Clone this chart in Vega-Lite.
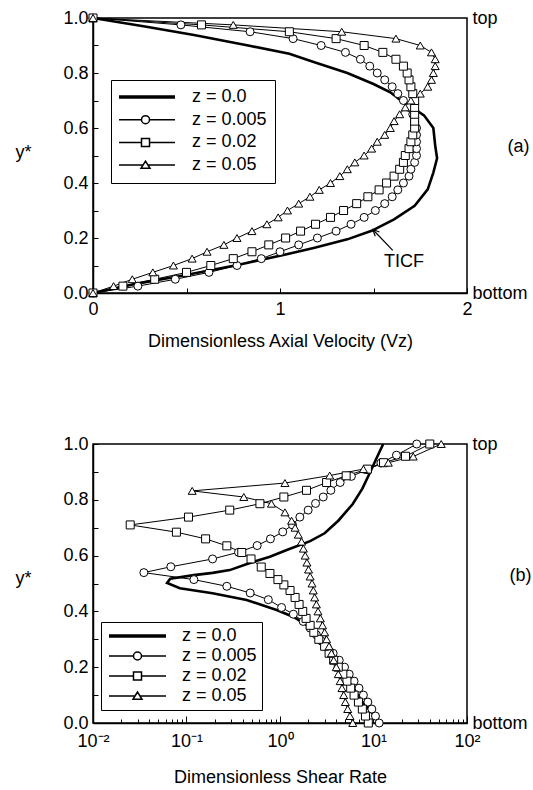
{
  "$schema": "https://vega.github.io/schema/vega-lite/v6.json",
  "padding": {"left": 14, "top": 8, "right": 0, "bottom": 0},
  "spacing": 83,
  "resolve": {"scale": {"shape": "independent"}, "legend": {"shape": "independent"}},
  "config": {
    "font": "Liberation Sans",
    "view": {"stroke": "black", "strokeWidth": 1.5},
    "axis": {"domainColor": "black", "domainWidth": 1.5, "tickColor": "black", "tickWidth": 1, "labelColor": "black", "titleColor": "black", "labelFontSize": 18, "titleFontSize": 18, "titleFontWeight": "normal", "grid": false, "labelFont": "Liberation Sans", "titleFont": "Liberation Sans"}
  },
  "datasets": {
    "vel": [
      {"z": "z = 0.0", "vz": 0, "y": 0}, {"z": "z = 0.0", "vz": 0.25, "y": 0.036}, {"z": "z = 0.0", "vz": 0.51, "y": 0.067}, {"z": "z = 0.0", "vz": 0.78, "y": 0.103}, {"z": "z = 0.0", "vz": 1.03, "y": 0.14}, {"z": "z = 0.0", "vz": 1.18, "y": 0.164}, {"z": "z = 0.0", "vz": 1.36, "y": 0.195}, {"z": "z = 0.0", "vz": 1.49, "y": 0.226}, {"z": "z = 0.0", "vz": 1.61, "y": 0.268}, {"z": "z = 0.0", "vz": 1.72, "y": 0.317}, {"z": "z = 0.0", "vz": 1.79, "y": 0.377}, {"z": "z = 0.0", "vz": 1.82, "y": 0.438}, {"z": "z = 0.0", "vz": 1.84, "y": 0.49}, {"z": "z = 0.0", "vz": 1.83, "y": 0.536}, {"z": "z = 0.0", "vz": 1.82, "y": 0.6}, {"z": "z = 0.0", "vz": 1.77, "y": 0.646}, {"z": "z = 0.0", "vz": 1.72, "y": 0.669}, {"z": "z = 0.0", "vz": 1.66, "y": 0.693}, {"z": "z = 0.0", "vz": 1.59, "y": 0.73}, {"z": "z = 0.0", "vz": 1.5, "y": 0.76}, {"z": "z = 0.0", "vz": 1.36, "y": 0.8}, {"z": "z = 0.0", "vz": 1.18, "y": 0.84}, {"z": "z = 0.0", "vz": 1.05, "y": 0.87}, {"z": "z = 0.0", "vz": 0.83, "y": 0.9}, {"z": "z = 0.0", "vz": 0.54, "y": 0.938}, {"z": "z = 0.0", "vz": 0.27, "y": 0.97}, {"z": "z = 0.0", "vz": 0, "y": 1},

      {"z": "z = 0.005", "vz": 0, "y": 0}, {"z": "z = 0.005", "vz": 0.24, "y": 0.025}, {"z": "z = 0.005", "vz": 0.44, "y": 0.05}, {"z": "z = 0.005", "vz": 0.62, "y": 0.075}, {"z": "z = 0.005", "vz": 0.77, "y": 0.1}, {"z": "z = 0.005", "vz": 0.9, "y": 0.125}, {"z": "z = 0.005", "vz": 1.0, "y": 0.15}, {"z": "z = 0.005", "vz": 1.1, "y": 0.175}, {"z": "z = 0.005", "vz": 1.2, "y": 0.2}, {"z": "z = 0.005", "vz": 1.3, "y": 0.225}, {"z": "z = 0.005", "vz": 1.38, "y": 0.25}, {"z": "z = 0.005", "vz": 1.45, "y": 0.275}, {"z": "z = 0.005", "vz": 1.51, "y": 0.3}, {"z": "z = 0.005", "vz": 1.56, "y": 0.325}, {"z": "z = 0.005", "vz": 1.6, "y": 0.35}, {"z": "z = 0.005", "vz": 1.63, "y": 0.375}, {"z": "z = 0.005", "vz": 1.66, "y": 0.4}, {"z": "z = 0.005", "vz": 1.69, "y": 0.425}, {"z": "z = 0.005", "vz": 1.7, "y": 0.45}, {"z": "z = 0.005", "vz": 1.72, "y": 0.475}, {"z": "z = 0.005", "vz": 1.73, "y": 0.5}, {"z": "z = 0.005", "vz": 1.73, "y": 0.525}, {"z": "z = 0.005", "vz": 1.73, "y": 0.55}, {"z": "z = 0.005", "vz": 1.73, "y": 0.575}, {"z": "z = 0.005", "vz": 1.73, "y": 0.6}, {"z": "z = 0.005", "vz": 1.72, "y": 0.625}, {"z": "z = 0.005", "vz": 1.71, "y": 0.65}, {"z": "z = 0.005", "vz": 1.69, "y": 0.675}, {"z": "z = 0.005", "vz": 1.66, "y": 0.7}, {"z": "z = 0.005", "vz": 1.63, "y": 0.725}, {"z": "z = 0.005", "vz": 1.6, "y": 0.75}, {"z": "z = 0.005", "vz": 1.56, "y": 0.775}, {"z": "z = 0.005", "vz": 1.52, "y": 0.8}, {"z": "z = 0.005", "vz": 1.48, "y": 0.825}, {"z": "z = 0.005", "vz": 1.43, "y": 0.85}, {"z": "z = 0.005", "vz": 1.35, "y": 0.875}, {"z": "z = 0.005", "vz": 1.22, "y": 0.9}, {"z": "z = 0.005", "vz": 1.07, "y": 0.925}, {"z": "z = 0.005", "vz": 0.84, "y": 0.95}, {"z": "z = 0.005", "vz": 0.47, "y": 0.975}, {"z": "z = 0.005", "vz": 0, "y": 1},

      {"z": "z = 0.02", "vz": 0, "y": 0}, {"z": "z = 0.02", "vz": 0.16, "y": 0.025}, {"z": "z = 0.02", "vz": 0.33, "y": 0.05}, {"z": "z = 0.02", "vz": 0.5, "y": 0.075}, {"z": "z = 0.02", "vz": 0.63, "y": 0.1}, {"z": "z = 0.02", "vz": 0.75, "y": 0.125}, {"z": "z = 0.02", "vz": 0.85, "y": 0.15}, {"z": "z = 0.02", "vz": 0.94, "y": 0.175}, {"z": "z = 0.02", "vz": 1.03, "y": 0.2}, {"z": "z = 0.02", "vz": 1.11, "y": 0.225}, {"z": "z = 0.02", "vz": 1.19, "y": 0.25}, {"z": "z = 0.02", "vz": 1.27, "y": 0.275}, {"z": "z = 0.02", "vz": 1.34, "y": 0.3}, {"z": "z = 0.02", "vz": 1.41, "y": 0.325}, {"z": "z = 0.02", "vz": 1.47, "y": 0.35}, {"z": "z = 0.02", "vz": 1.53, "y": 0.375}, {"z": "z = 0.02", "vz": 1.57, "y": 0.4}, {"z": "z = 0.02", "vz": 1.61, "y": 0.425}, {"z": "z = 0.02", "vz": 1.64, "y": 0.45}, {"z": "z = 0.02", "vz": 1.66, "y": 0.475}, {"z": "z = 0.02", "vz": 1.67, "y": 0.5}, {"z": "z = 0.02", "vz": 1.69, "y": 0.525}, {"z": "z = 0.02", "vz": 1.7, "y": 0.55}, {"z": "z = 0.02", "vz": 1.71, "y": 0.575}, {"z": "z = 0.02", "vz": 1.72, "y": 0.6}, {"z": "z = 0.02", "vz": 1.72, "y": 0.625}, {"z": "z = 0.02", "vz": 1.72, "y": 0.65}, {"z": "z = 0.02", "vz": 1.72, "y": 0.675}, {"z": "z = 0.02", "vz": 1.72, "y": 0.7}, {"z": "z = 0.02", "vz": 1.71, "y": 0.725}, {"z": "z = 0.02", "vz": 1.7, "y": 0.75}, {"z": "z = 0.02", "vz": 1.69, "y": 0.775}, {"z": "z = 0.02", "vz": 1.68, "y": 0.8}, {"z": "z = 0.02", "vz": 1.66, "y": 0.825}, {"z": "z = 0.02", "vz": 1.62, "y": 0.85}, {"z": "z = 0.02", "vz": 1.55, "y": 0.875}, {"z": "z = 0.02", "vz": 1.45, "y": 0.9}, {"z": "z = 0.02", "vz": 1.3, "y": 0.925}, {"z": "z = 0.02", "vz": 1.05, "y": 0.95}, {"z": "z = 0.02", "vz": 0.58, "y": 0.975}, {"z": "z = 0.02", "vz": 0, "y": 1},

      {"z": "z = 0.05", "vz": 0, "y": 0}, {"z": "z = 0.05", "vz": 0.11, "y": 0.025}, {"z": "z = 0.05", "vz": 0.21, "y": 0.05}, {"z": "z = 0.05", "vz": 0.32, "y": 0.075}, {"z": "z = 0.05", "vz": 0.43, "y": 0.1}, {"z": "z = 0.05", "vz": 0.53, "y": 0.125}, {"z": "z = 0.05", "vz": 0.61, "y": 0.15}, {"z": "z = 0.05", "vz": 0.7, "y": 0.175}, {"z": "z = 0.05", "vz": 0.77, "y": 0.2}, {"z": "z = 0.05", "vz": 0.85, "y": 0.225}, {"z": "z = 0.05", "vz": 0.93, "y": 0.25}, {"z": "z = 0.05", "vz": 0.99, "y": 0.275}, {"z": "z = 0.05", "vz": 1.04, "y": 0.3}, {"z": "z = 0.05", "vz": 1.1, "y": 0.325}, {"z": "z = 0.05", "vz": 1.16, "y": 0.35}, {"z": "z = 0.05", "vz": 1.21, "y": 0.375}, {"z": "z = 0.05", "vz": 1.27, "y": 0.4}, {"z": "z = 0.05", "vz": 1.32, "y": 0.425}, {"z": "z = 0.05", "vz": 1.36, "y": 0.45}, {"z": "z = 0.05", "vz": 1.4, "y": 0.475}, {"z": "z = 0.05", "vz": 1.45, "y": 0.5}, {"z": "z = 0.05", "vz": 1.49, "y": 0.525}, {"z": "z = 0.05", "vz": 1.52, "y": 0.55}, {"z": "z = 0.05", "vz": 1.56, "y": 0.575}, {"z": "z = 0.05", "vz": 1.59, "y": 0.6}, {"z": "z = 0.05", "vz": 1.61, "y": 0.625}, {"z": "z = 0.05", "vz": 1.64, "y": 0.65}, {"z": "z = 0.05", "vz": 1.67, "y": 0.675}, {"z": "z = 0.05", "vz": 1.7, "y": 0.7}, {"z": "z = 0.05", "vz": 1.75, "y": 0.725}, {"z": "z = 0.05", "vz": 1.79, "y": 0.75}, {"z": "z = 0.05", "vz": 1.81, "y": 0.775}, {"z": "z = 0.05", "vz": 1.82, "y": 0.8}, {"z": "z = 0.05", "vz": 1.83, "y": 0.825}, {"z": "z = 0.05", "vz": 1.83, "y": 0.85}, {"z": "z = 0.05", "vz": 1.81, "y": 0.875}, {"z": "z = 0.05", "vz": 1.75, "y": 0.9}, {"z": "z = 0.05", "vz": 1.62, "y": 0.925}, {"z": "z = 0.05", "vz": 1.33, "y": 0.95}, {"z": "z = 0.05", "vz": 0.75, "y": 0.975}, {"z": "z = 0.05", "vz": 0, "y": 1}
    ],
    "shear": [
      {"z": "z = 0.0", "rate": 12.0, "y": 0}, {"z": "z = 0.0", "rate": 9.7, "y": 0.035}, {"z": "z = 0.0", "rate": 7.8, "y": 0.071}, {"z": "z = 0.0", "rate": 6.6, "y": 0.106}, {"z": "z = 0.0", "rate": 5.6, "y": 0.142}, {"z": "z = 0.0", "rate": 4.0, "y": 0.214}, {"z": "z = 0.0", "rate": 2.9, "y": 0.286}, {"z": "z = 0.0", "rate": 1.93, "y": 0.351}, {"z": "z = 0.0", "rate": 1.4, "y": 0.38}, {"z": "z = 0.0", "rate": 0.92, "y": 0.405}, {"z": "z = 0.0", "rate": 0.44, "y": 0.441}, {"z": "z = 0.0", "rate": 0.19, "y": 0.465}, {"z": "z = 0.0", "rate": 0.085, "y": 0.483}, {"z": "z = 0.0", "rate": 0.062, "y": 0.502}, {"z": "z = 0.0", "rate": 0.067, "y": 0.517}, {"z": "z = 0.0", "rate": 0.12, "y": 0.53}, {"z": "z = 0.0", "rate": 0.19, "y": 0.538}, {"z": "z = 0.0", "rate": 0.29, "y": 0.548}, {"z": "z = 0.0", "rate": 0.46, "y": 0.572}, {"z": "z = 0.0", "rate": 0.78, "y": 0.596}, {"z": "z = 0.0", "rate": 1.18, "y": 0.62}, {"z": "z = 0.0", "rate": 2.1, "y": 0.652}, {"z": "z = 0.0", "rate": 3.0, "y": 0.68}, {"z": "z = 0.0", "rate": 4.2, "y": 0.725}, {"z": "z = 0.0", "rate": 6.0, "y": 0.785}, {"z": "z = 0.0", "rate": 7.6, "y": 0.84}, {"z": "z = 0.0", "rate": 9.1, "y": 0.895}, {"z": "z = 0.0", "rate": 10.8, "y": 0.95}, {"z": "z = 0.0", "rate": 12.7, "y": 1.0},

      {"z": "z = 0.005", "rate": 11.5, "y": 0}, {"z": "z = 0.005", "rate": 10.5, "y": 0.025}, {"z": "z = 0.005", "rate": 9.6, "y": 0.05}, {"z": "z = 0.005", "rate": 8.7, "y": 0.075}, {"z": "z = 0.005", "rate": 7.8, "y": 0.1}, {"z": "z = 0.005", "rate": 7.0, "y": 0.125}, {"z": "z = 0.005", "rate": 6.2, "y": 0.15}, {"z": "z = 0.005", "rate": 5.5, "y": 0.175}, {"z": "z = 0.005", "rate": 4.9, "y": 0.2}, {"z": "z = 0.005", "rate": 4.3, "y": 0.225}, {"z": "z = 0.005", "rate": 3.7, "y": 0.25}, {"z": "z = 0.005", "rate": 3.2, "y": 0.272}, {"z": "z = 0.005", "rate": 2.8, "y": 0.293}, {"z": "z = 0.005", "rate": 2.45, "y": 0.316}, {"z": "z = 0.005", "rate": 2.1, "y": 0.34}, {"z": "z = 0.005", "rate": 1.77, "y": 0.364}, {"z": "z = 0.005", "rate": 1.39, "y": 0.39}, {"z": "z = 0.005", "rate": 1.04, "y": 0.414}, {"z": "z = 0.005", "rate": 0.75, "y": 0.442}, {"z": "z = 0.005", "rate": 0.48, "y": 0.466}, {"z": "z = 0.005", "rate": 0.27, "y": 0.49}, {"z": "z = 0.005", "rate": 0.12, "y": 0.514}, {"z": "z = 0.005", "rate": 0.035, "y": 0.539}, {"z": "z = 0.005", "rate": 0.068, "y": 0.56}, {"z": "z = 0.005", "rate": 0.19, "y": 0.588}, {"z": "z = 0.005", "rate": 0.36, "y": 0.612}, {"z": "z = 0.005", "rate": 0.57, "y": 0.636}, {"z": "z = 0.005", "rate": 0.79, "y": 0.66}, {"z": "z = 0.005", "rate": 1.07, "y": 0.685}, {"z": "z = 0.005", "rate": 1.36, "y": 0.71}, {"z": "z = 0.005", "rate": 1.63, "y": 0.738}, {"z": "z = 0.005", "rate": 2.0, "y": 0.763}, {"z": "z = 0.005", "rate": 2.4, "y": 0.787}, {"z": "z = 0.005", "rate": 2.9, "y": 0.81}, {"z": "z = 0.005", "rate": 3.5, "y": 0.834}, {"z": "z = 0.005", "rate": 4.4, "y": 0.862}, {"z": "z = 0.005", "rate": 5.8, "y": 0.884}, {"z": "z = 0.005", "rate": 8.5, "y": 0.908}, {"z": "z = 0.005", "rate": 12.0, "y": 0.932}, {"z": "z = 0.005", "rate": 17.6, "y": 0.96}, {"z": "z = 0.005", "rate": 29, "y": 1.0},

      {"z": "z = 0.02", "rate": 8.8, "y": 0}, {"z": "z = 0.02", "rate": 8.2, "y": 0.025}, {"z": "z = 0.02", "rate": 7.6, "y": 0.05}, {"z": "z = 0.02", "rate": 6.9, "y": 0.075}, {"z": "z = 0.02", "rate": 6.2, "y": 0.1}, {"z": "z = 0.02", "rate": 5.7, "y": 0.125}, {"z": "z = 0.02", "rate": 5.2, "y": 0.15}, {"z": "z = 0.02", "rate": 4.7, "y": 0.175}, {"z": "z = 0.02", "rate": 4.2, "y": 0.2}, {"z": "z = 0.02", "rate": 3.75, "y": 0.225}, {"z": "z = 0.02", "rate": 3.35, "y": 0.25}, {"z": "z = 0.02", "rate": 3.0, "y": 0.275}, {"z": "z = 0.02", "rate": 2.6, "y": 0.3}, {"z": "z = 0.02", "rate": 2.3, "y": 0.325}, {"z": "z = 0.02", "rate": 2.1, "y": 0.35}, {"z": "z = 0.02", "rate": 1.9, "y": 0.375}, {"z": "z = 0.02", "rate": 1.75, "y": 0.4}, {"z": "z = 0.02", "rate": 1.6, "y": 0.425}, {"z": "z = 0.02", "rate": 1.45, "y": 0.45}, {"z": "z = 0.02", "rate": 1.28, "y": 0.475}, {"z": "z = 0.02", "rate": 1.1, "y": 0.495}, {"z": "z = 0.02", "rate": 0.95, "y": 0.514}, {"z": "z = 0.02", "rate": 0.78, "y": 0.536}, {"z": "z = 0.02", "rate": 0.63, "y": 0.559}, {"z": "z = 0.02", "rate": 0.49, "y": 0.588}, {"z": "z = 0.02", "rate": 0.39, "y": 0.611}, {"z": "z = 0.02", "rate": 0.27, "y": 0.635}, {"z": "z = 0.02", "rate": 0.16, "y": 0.66}, {"z": "z = 0.02", "rate": 0.078, "y": 0.684}, {"z": "z = 0.02", "rate": 0.025, "y": 0.71}, {"z": "z = 0.02", "rate": 0.105, "y": 0.738}, {"z": "z = 0.02", "rate": 0.29, "y": 0.763}, {"z": "z = 0.02", "rate": 0.61, "y": 0.786}, {"z": "z = 0.02", "rate": 1.1, "y": 0.81}, {"z": "z = 0.02", "rate": 1.92, "y": 0.834}, {"z": "z = 0.02", "rate": 3.15, "y": 0.862}, {"z": "z = 0.02", "rate": 5.1, "y": 0.886}, {"z": "z = 0.02", "rate": 8.6, "y": 0.91}, {"z": "z = 0.02", "rate": 12.8, "y": 0.933}, {"z": "z = 0.02", "rate": 22, "y": 0.956}, {"z": "z = 0.02", "rate": 40, "y": 1.0},

      {"z": "z = 0.05", "rate": 6.0, "y": 0}, {"z": "z = 0.05", "rate": 5.6, "y": 0.025}, {"z": "z = 0.05", "rate": 5.3, "y": 0.05}, {"z": "z = 0.05", "rate": 5.0, "y": 0.075}, {"z": "z = 0.05", "rate": 4.8, "y": 0.1}, {"z": "z = 0.05", "rate": 4.6, "y": 0.125}, {"z": "z = 0.05", "rate": 4.4, "y": 0.15}, {"z": "z = 0.05", "rate": 4.2, "y": 0.175}, {"z": "z = 0.05", "rate": 4.0, "y": 0.2}, {"z": "z = 0.05", "rate": 3.75, "y": 0.225}, {"z": "z = 0.05", "rate": 3.55, "y": 0.25}, {"z": "z = 0.05", "rate": 3.35, "y": 0.275}, {"z": "z = 0.05", "rate": 3.15, "y": 0.3}, {"z": "z = 0.05", "rate": 3.0, "y": 0.325}, {"z": "z = 0.05", "rate": 2.85, "y": 0.35}, {"z": "z = 0.05", "rate": 2.7, "y": 0.375}, {"z": "z = 0.05", "rate": 2.55, "y": 0.4}, {"z": "z = 0.05", "rate": 2.45, "y": 0.425}, {"z": "z = 0.05", "rate": 2.35, "y": 0.45}, {"z": "z = 0.05", "rate": 2.27, "y": 0.475}, {"z": "z = 0.05", "rate": 2.2, "y": 0.5}, {"z": "z = 0.05", "rate": 2.1, "y": 0.525}, {"z": "z = 0.05", "rate": 2.02, "y": 0.55}, {"z": "z = 0.05", "rate": 1.94, "y": 0.575}, {"z": "z = 0.05", "rate": 1.86, "y": 0.6}, {"z": "z = 0.05", "rate": 1.78, "y": 0.625}, {"z": "z = 0.05", "rate": 1.7, "y": 0.65}, {"z": "z = 0.05", "rate": 1.57, "y": 0.675}, {"z": "z = 0.05", "rate": 1.45, "y": 0.7}, {"z": "z = 0.05", "rate": 1.33, "y": 0.725}, {"z": "z = 0.05", "rate": 1.13, "y": 0.755}, {"z": "z = 0.05", "rate": 0.81, "y": 0.786}, {"z": "z = 0.05", "rate": 0.41, "y": 0.81}, {"z": "z = 0.05", "rate": 0.115, "y": 0.832}, {"z": "z = 0.05", "rate": 1.13, "y": 0.86}, {"z": "z = 0.05", "rate": 3.4, "y": 0.887}, {"z": "z = 0.05", "rate": 7.8, "y": 0.91}, {"z": "z = 0.05", "rate": 14.4, "y": 0.933}, {"z": "z = 0.05", "rate": 26.6, "y": 0.955}, {"z": "z = 0.05", "rate": 53, "y": 1.0}
    ]
  },
  "vconcat": [
    {
      "width": 374,
      "height": 275,
      "resolve": {"axis": {"y": "independent"}, "scale": {"shape": "independent"}, "legend": {"shape": "independent"}},
      "layer": [
        {
          "data": {"name": "vel"},
          "mark": {"type": "line", "color": "black"},
          "encoding": {
            "x": {"field": "vz", "type": "quantitative", "scale": {"domain": [0, 2], "nice": false},
              "axis": {"title": "Dimensionless Axial Velocity (Vz)", "values": [0, 0.5, 1, 1.5, 2], "labelExpr": "datum.value % 1 === 0 ? format(datum.value, 'd') : ''", "tickSize": -5, "labelPadding": 12, "titlePadding": 14, "labelFlush": false, "labelOverlap": false}},
            "y": {"field": "y", "type": "quantitative", "scale": {"domain": [0, 1], "nice": false},
              "axis": {"orient": "left", "title": "y*", "values": [0, 0.1, 0.2, 0.3, 0.4, 0.5, 0.6, 0.7, 0.8, 0.9, 1], "labelExpr": "round(datum.value * 10) % 2 === 0 ? format(datum.value, '.1f') : ''", "tickSize": -5, "labelPadding": 10, "labelOverlap": false, "labelFlush": false, "titleAngle": 0, "titleX": -70, "titleY": 134, "titleAlign": "center", "titleBaseline": "middle"}},
            "detail": {"field": "z"},
            "order": {"field": "y", "type": "quantitative"},
            "strokeWidth": {"condition": {"test": "datum.z === 'z = 0.0'", "value": 2.6}, "value": 1}
          }
        },
        {
          "data": {"name": "vel"},
          "transform": [{"filter": "datum.z !== 'z = 0.0'"}],
          "mark": {"type": "point", "filled": true, "fill": "white", "stroke": "black", "strokeWidth": 1, "size": 64, "opacity": 1},
          "encoding": {
            "x": {"field": "vz", "type": "quantitative", "scale": {"domain": [0, 2], "nice": false}},
            "y": {"field": "y", "type": "quantitative", "scale": {"domain": [0, 1], "nice": false},
              "axis": {"orient": "right", "values": [0, 1], "labelExpr": "datum.value === 1 ? 'top' : 'bottom'", "ticks": false, "domain": false, "labelPadding": 5, "labelAlign": "left", "labelOverlap": false, "labelFlush": false, "title": "(a)", "titleAngle": 0, "titleX": 40, "titleY": 128, "titleAlign": "left", "titleBaseline": "middle"}},
            "shape": {"field": "z", "type": "nominal",
              "scale": {"domain": ["z = 0.0", "z = 0.005", "z = 0.02", "z = 0.05"], "range": ["circle", "circle", "square", "triangle-up"]},
              "legend": null}
          }
        },
        {
          "data": {"name": "vel"},
          "transform": [{"filter": "datum.z === 'none'"}],
          "mark": {"type": "point", "filled": true, "fill": "white", "stroke": "black", "strokeWidth": 1, "size": 100, "opacity": 1},
          "encoding": {
            "x": {"field": "vz", "type": "quantitative", "scale": {"domain": [0, 2], "nice": false}},
            "y": {"field": "y", "type": "quantitative", "scale": {"domain": [0, 1], "nice": false}, "axis": null},
            "shape": {"field": "z", "type": "nominal",
              "scale": {"domain": ["z = 0.0", "z = 0.005", "z = 0.02", "z = 0.05"],
                "range": ["M-1.8,-0.2L9.4,-0.2M-1.8,0L9.4,0M-1.8,0.2L9.4,0.2", "M-1.8,0L2.7,0M4.3,0L9.4,0M4.3,0A0.8,0.8,0,1,1,2.7,0A0.8,0.8,0,1,1,4.3,0", "M-1.8,0L2.7,0M4.3,0L9.4,0M2.7,-0.8L4.3,-0.8L4.3,0.8L2.7,0.8Z", "M-1.8,0L3,0M4,0L9.4,0M3.5,-0.8L2.6,0.65L4.4,0.65Z"]},
              "legend": {"orient": "none", "legendX": 18, "legendY": 62, "title": null, "strokeColor": "black", "fillColor": "white", "padding": 8, "rowPadding": 4.7, "symbolSize": 100, "labelOffset": 55, "labelFontSize": 18, "labelColor": "black", "labelFont": "Liberation Sans"}}
          }
        },
        {
          "data": {"values": [{"vz": 1.603, "y": 0.155, "vz2": 1.496, "y2": 0.231}]},
          "mark": {"type": "rule", "color": "black", "strokeWidth": 1.2},
          "encoding": {
            "x": {"field": "vz", "type": "quantitative", "scale": {"domain": [0, 2], "nice": false}},
            "y": {"field": "y", "type": "quantitative", "scale": {"domain": [0, 1], "nice": false}, "axis": null},
            "x2": {"field": "vz2"},
            "y2": {"field": "y2"}
          }
        },
        {
          "data": {"values": [{"vz": 1.496, "y": 0.231}]},
          "mark": {"type": "point", "shape": "M-0.6,1.3L0,0L0.6,1.3", "angle": -45, "size": 100, "filled": false, "stroke": "black", "strokeWidth": 1.2, "opacity": 1},
          "encoding": {
            "x": {"field": "vz", "type": "quantitative", "scale": {"domain": [0, 2], "nice": false}},
            "y": {"field": "y", "type": "quantitative", "scale": {"domain": [0, 1], "nice": false}, "axis": null}
          }
        },
        {
          "data": {"values": [{"label": "TICF", "vz": 1.663, "y": 0.113}]},
          "mark": {"type": "text", "fontSize": 18, "color": "black", "align": "center", "baseline": "middle"},
          "encoding": {
            "x": {"field": "vz", "type": "quantitative", "scale": {"domain": [0, 2], "nice": false}},
            "y": {"field": "y", "type": "quantitative", "scale": {"domain": [0, 1], "nice": false}, "axis": null},
            "text": {"field": "label"}
          }
        }
      ]
    },
    {
      "width": 374,
      "height": 279,
      "resolve": {"axis": {"y": "independent"}, "scale": {"shape": "independent"}, "legend": {"shape": "independent"}},
      "layer": [
        {
          "data": {"name": "shear"},
          "mark": {"type": "line", "color": "black"},
          "encoding": {
            "x": {"field": "rate", "type": "quantitative", "scale": {"type": "log", "domain": [0.01, 100], "nice": false},
              "axis": {"title": "Dimensionless Shear Rate", "values": [0.01, 0.02, 0.03, 0.04, 0.05, 0.06, 0.07, 0.08, 0.09, 0.1, 0.2, 0.3, 0.4, 0.5, 0.6, 0.7, 0.8, 0.9, 1, 2, 3, 4, 5, 6, 7, 8, 9, 10, 20, 30, 40, 50, 60, 70, 80, 90, 100],
                "labelExpr": "datum.value === 0.01 ? '10⁻²' : datum.value === 0.1 ? '10⁻¹' : datum.value === 1 ? '10⁰' : datum.value === 10 ? '10¹' : datum.value === 100 ? '10²' : ''",
                "tickSize": {"condition": {"test": "indexof([0.01, 0.1, 1, 10, 100], datum.value) >= 0", "value": -7}, "value": -4},
                "labelPadding": 16, "titlePadding": 15, "labelFlush": false, "labelOverlap": false}},
            "y": {"field": "y", "type": "quantitative", "scale": {"domain": [0, 1], "nice": false},
              "axis": {"orient": "left", "title": "y*", "values": [0, 0.1, 0.2, 0.3, 0.4, 0.5, 0.6, 0.7, 0.8, 0.9, 1], "labelExpr": "round(datum.value * 10) % 2 === 0 ? format(datum.value, '.1f') : ''", "tickSize": -5, "labelPadding": 10, "labelOverlap": false, "labelFlush": false, "titleAngle": 0, "titleX": -70, "titleY": 134, "titleAlign": "center", "titleBaseline": "middle"}},
            "detail": {"field": "z"},
            "order": {"field": "y", "type": "quantitative"},
            "strokeWidth": {"condition": {"test": "datum.z === 'z = 0.0'", "value": 2.6}, "value": 1}
          }
        },
        {
          "data": {"name": "shear"},
          "transform": [{"filter": "datum.z !== 'z = 0.0'"}],
          "mark": {"type": "point", "filled": true, "fill": "white", "stroke": "black", "strokeWidth": 1, "size": 64, "opacity": 1},
          "encoding": {
            "x": {"field": "rate", "type": "quantitative", "scale": {"type": "log", "domain": [0.01, 100], "nice": false}},
            "y": {"field": "y", "type": "quantitative", "scale": {"domain": [0, 1], "nice": false},
              "axis": {"orient": "right", "values": [0, 1], "labelExpr": "datum.value === 1 ? 'top' : 'bottom'", "ticks": false, "domain": false, "labelPadding": 5, "labelAlign": "left", "labelOverlap": false, "labelFlush": false, "title": "(b)", "titleAngle": 0, "titleX": 42, "titleY": 131, "titleAlign": "left", "titleBaseline": "middle"}},
            "shape": {"field": "z", "type": "nominal",
              "scale": {"domain": ["z = 0.0", "z = 0.005", "z = 0.02", "z = 0.05"], "range": ["circle", "circle", "square", "triangle-up"]},
              "legend": null}
          }
        },
        {
          "data": {"name": "shear"},
          "transform": [{"filter": "datum.z === 'none'"}],
          "mark": {"type": "point", "filled": true, "fill": "white", "stroke": "black", "strokeWidth": 1, "size": 100, "opacity": 1},
          "encoding": {
            "x": {"field": "rate", "type": "quantitative", "scale": {"type": "log", "domain": [0.01, 100], "nice": false}},
            "y": {"field": "y", "type": "quantitative", "scale": {"domain": [0, 1], "nice": false}, "axis": null},
            "shape": {"field": "z", "type": "nominal",
              "scale": {"domain": ["z = 0.0", "z = 0.005", "z = 0.02", "z = 0.05"],
                "range": ["M-1.2,-0.2L10.2,-0.2M-1.2,0L10.2,0M-1.2,0.2L10.2,0.2", "M-1.2,0L3.7,0M5.3,0L10.2,0M5.3,0A0.8,0.8,0,1,1,3.7,0A0.8,0.8,0,1,1,5.3,0", "M-1.2,0L3.7,0M5.3,0L10.2,0M3.7,-0.8L5.3,-0.8L5.3,0.8L3.7,0.8Z", "M-1.2,0L4,0M5,0L10.2,0M4.5,-0.8L3.6,0.65L5.4,0.65Z"]},
              "legend": {"orient": "none", "legendX": 8, "legendY": 178, "title": null, "strokeColor": "black", "fillColor": "white", "padding": 5, "rowPadding": 2, "symbolSize": 100, "labelOffset": 58, "labelFontSize": 18, "labelColor": "black", "labelFont": "Liberation Sans"}}
          }
        }
      ]
    }
  ]
}
